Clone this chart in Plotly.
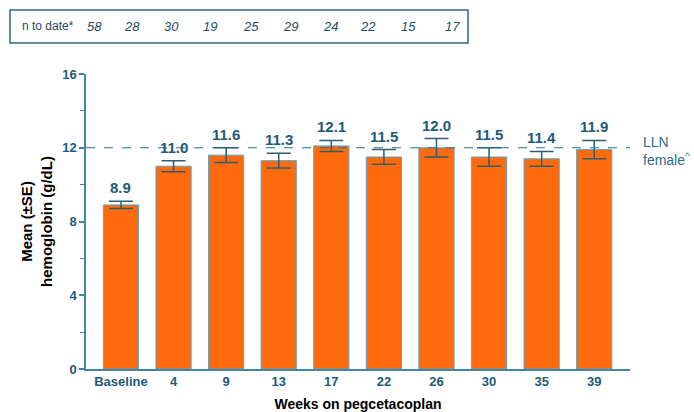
import plotly.graph_objects as go

categories = ["Baseline", "4", "9", "13", "17", "22", "26", "30", "35", "39"]
means = [8.9, 11.0, 11.6, 11.3, 12.1, 11.5, 12.0, 11.5, 11.4, 11.9]
se = [0.2, 0.3, 0.4, 0.4, 0.3, 0.4, 0.5, 0.5, 0.4, 0.5]
n_to_date = [58, 28, 30, 19, 25, 29, 24, 22, 15, 17]
lln_female = 12
y_ticks = [0, 4, 8, 12, 16]

TEAL = "#1d5a78"
AXIS = "#3f86a6"
FONT = "Liberation Sans, Arial, sans-serif"

W, H = 694, 412
L, R, T, B = 86, 64, 74, 43
pw, ph = W - L - R, H - T - B

def px_x(p):
    return (p - L) / pw

def px_y(p):
    return (H - B - p) / ph

fig = go.Figure()
fig.add_trace(go.Bar(
    x=list(range(len(categories))), y=means, width=0.67,
    marker=dict(color="#ff6a0d", line=dict(color="#5ba6c6", width=1)),
    error_y=dict(type="data", array=se, visible=True, color="#2c5d70", thickness=1.5, width=12),
    hoverinfo="skip",
))

annotations = []
for i, (m, s) in enumerate(zip(means, se)):
    annotations.append(dict(x=i, y=m + s, xref="x", yref="y", text=f"<b>{m:.1f}</b>",
                            showarrow=False, yanchor="bottom", yshift=3,
                            font=dict(family=FONT, size=15, color=TEAL)))

# LLN line
fig.add_shape(type="line", xref="paper", yref="y", x0=0, x1=1, y0=lln_female, y1=lln_female,
              line=dict(color="#2c6c8a", width=1, dash="dash"))
annotations.append(dict(x=px_x(641), y=px_y(151), xref="paper", yref="paper",
                        text="LLN<br>female<sup>^</sup>", showarrow=False, xanchor="left", yanchor="middle",
                        align="left", font=dict(family=FONT, size=14, color="#2a6f8a")))

# n to date box
fig.add_shape(type="rect", xref="paper", yref="paper", x0=px_x(10), x1=px_x(468),
              y0=px_y(43), y1=px_y(10), line=dict(color="#2d6a86", width=1.5))
annotations.append(dict(x=px_x(20), y=px_y(26.5), xref="paper", yref="paper", text="n to date*",
                        showarrow=False, xanchor="left", yanchor="middle",
                        font=dict(family=FONT, size=12, color="#1f4a60")))
n_px = [94, 132, 171, 210, 251, 290, 330, 368, 408, 452]
for p, n in zip(n_px, n_to_date):
    annotations.append(dict(x=px_x(p), y=px_y(26.5), xref="paper", yref="paper", text=f"<i>{n}</i>",
                            showarrow=False, xanchor="center", yanchor="middle",
                            font=dict(family=FONT, size=13, color="#1f4a60")))

fig.update_layout(
    width=W, height=H, margin=dict(l=L, r=R, t=T, b=B, autoexpand=False),
    plot_bgcolor="white", paper_bgcolor="white", showlegend=False,
    font=dict(family=FONT),
    annotations=annotations,
    xaxis=dict(range=[-0.665, 9.68], tickmode="array", tickvals=list(range(len(categories))),
               ticktext=[f"<b>{c}</b>" for c in categories],
               tickfont=dict(family=FONT, size=13, color=TEAL), automargin=False,
               showline=True, linecolor=AXIS, linewidth=1.5, ticks="", showgrid=False, zeroline=False,
               title=dict(text="<b>Weeks on pegcetacoplan</b>", font=dict(family=FONT, size=14, color="black"),
                          standoff=11)),
    yaxis=dict(range=[0, 16], tickmode="array", tickvals=y_ticks,
               ticktext=[f"<b>{v}</b>" for v in y_ticks],
               tickfont=dict(family=FONT, size=13, color=TEAL), automargin=False,
               showline=True, linecolor=AXIS, linewidth=1.5, ticks="outside", ticklen=5,
               tickcolor=AXIS, tickwidth=1.5,
               minor=dict(tickvals=[2, 6, 10, 14], ticks="outside", ticklen=4, tickcolor=AXIS, tickwidth=1.2),
               showgrid=False, zeroline=False,
               title=dict(text="<b>Mean (±SE)<br>hemoglobin (g/dL)</b>",
                          font=dict(family=FONT, size=15, color="black"), standoff=6)),
)

fig.write_html("out.html")
